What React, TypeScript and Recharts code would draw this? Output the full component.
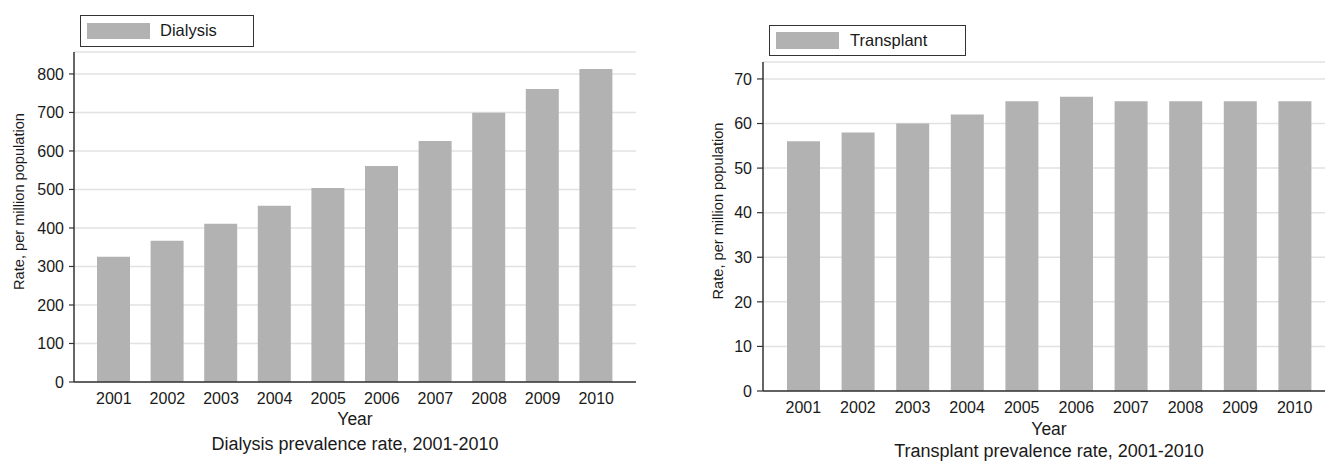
import React from "react";
import { BarChart, Bar, XAxis, YAxis, CartesianGrid, Legend, Label } from "recharts";

const years = ["2001", "2002", "2003", "2004", "2005", "2006", "2007", "2008", "2009", "2010"];
const dialysisRates = [325, 367, 411, 458, 504, 561, 626, 699, 761, 813];
const transplantRates = [56, 58, 60, 62, 65, 66, 65, 65, 65, 65];
const dialysisTicks = [0, 100, 200, 300, 400, 500, 600, 700, 800];
const transplantTicks = [0, 10, 20, 30, 40, 50, 60, 70];

const dialysisData = years.map((year, i) => ({ year, rate: dialysisRates[i] }));
const transplantData = years.map((year, i) => ({ year, rate: transplantRates[i] }));

const FONT = '"Liberation Sans", Arial, Helvetica, sans-serif';
const TEXT = "#1a1a1a";
const AXIS = "#333333";
const BAR = "#b2b2b2";
const GRID = "#e2e2e2";

const makeLegend = (box: { w: number; h: number; sx: number; sy: number; sw: number; sh: number; tx: number }) =>
  (props: any) => {
    const item = (props.payload || [])[0] || {};
    return (
      <div
        style={{
          position: "relative",
          width: box.w,
          height: box.h,
          boxSizing: "border-box",
          border: `1.5px solid ${AXIS}`,
          background: "#fff",
          fontFamily: FONT,
        }}
      >
        <div
          style={{
            position: "absolute",
            left: box.sx,
            top: box.sy,
            width: box.sw,
            height: box.sh,
            background: item.color || BAR,
          }}
        />
        <span
          style={{
            position: "absolute",
            left: box.tx,
            top: 0,
            lineHeight: `${box.h - 3}px`,
            fontSize: 16.5,
            color: TEXT,
          }}
        >
          {item.value}
        </span>
      </div>
    );
  };

const xLabel = (text: string, dy: number, size: number) => (props: any) => {
  const vb = props.viewBox || {};
  return (
    <text x={vb.x + vb.width / 2} y={vb.y + dy} textAnchor="middle" fontSize={size} fill={TEXT} fontFamily={FONT}>
      {text}
    </text>
  );
};

const yLabel = (text: string, gap: number) => (props: any) => {
  const vb = props.viewBox || {};
  const x = vb.x + vb.width - gap;
  const y = vb.y + vb.height / 2 - 15.5;
  return (
    <text
      x={x}
      y={y}
      transform={`rotate(-90, ${x}, ${y})`}
      textAnchor="middle"
      fontSize={14.6}
      fill={TEXT}
      fontFamily={FONT}
    >
      {text}
    </text>
  );
};

type PanelProps = {
  data: { year: string; rate: number }[];
  name: string;
  ticks: number[];
  domainMax: number;
  width: number;
  margin: { top: number; right: number; bottom: number; left: number };
  xHeight: number;
  tickSize: number;
  yGap: number;
  yearDy: number;
  titleDy: number;
  title: string;
  legendPos: { left: number; top: number };
  legendBox: { w: number; h: number; sx: number; sy: number; sw: number; sh: number; tx: number };
};

const Panel = (p: PanelProps) => (
  <BarChart width={p.width} height={461} data={p.data} margin={p.margin} style={{ fontFamily: FONT }}>
    <CartesianGrid vertical={false} stroke={GRID} strokeWidth={1.5} />
    <XAxis
      dataKey="year"
      height={p.xHeight}
      padding={{ left: 13, right: 13 }}
      axisLine={{ stroke: AXIS, strokeWidth: 1.5 }}
      tickLine={{ stroke: "transparent" }}
      tickSize={6}
      tickMargin={5}
      tick={{ fill: TEXT, fontSize: 16, fontFamily: FONT }}
      interval={0}
    >
      <Label content={xLabel("Year", p.yearDy, 17.5)} />
      <Label content={xLabel(p.title, p.titleDy, 18)} />
    </XAxis>
    <XAxis
      xAxisId="frameTop"
      orientation="top"
      dataKey="year"
      height={0}
      tick={false}
      tickLine={false}
      axisLine={{ stroke: AXIS, strokeWidth: 1.5 }}
    />
    <YAxis
      width={60}
      domain={[0, p.domainMax]}
      ticks={p.ticks}
      interval={0}
      axisLine={{ stroke: AXIS, strokeWidth: 1.5 }}
      tickLine={{ stroke: AXIS, strokeWidth: 1.2 }}
      tickSize={p.tickSize}
      tickMargin={5}
      tick={{ fill: TEXT, fontSize: 16, fontFamily: FONT }}
      allowDataOverflow
    >
      <Label content={yLabel("Rate, per million population", p.yGap)} />
    </YAxis>
    <YAxis
      yAxisId="frameRight"
      orientation="right"
      width={0}
      domain={[0, p.domainMax]}
      tick={false}
      tickLine={false}
      axisLine={{ stroke: AXIS, strokeWidth: 1.5 }}
    />
    <Legend
      layout="vertical"
      align="center"
      verticalAlign="middle"
      wrapperStyle={{ left: p.legendPos.left, top: p.legendPos.top, width: p.legendBox.w, height: p.legendBox.h }}
      content={makeLegend(p.legendBox)}
    />
    <Bar dataKey="rate" name={p.name} fill={BAR} barSize={33} isAnimationActive={false} />
  </BarChart>
);

export default function App() {
  return (
    <div
      style={{
        position: "fixed",
        left: 0,
        top: 0,
        width: 1325,
        height: 461,
        overflow: "hidden",
        background: "#fff",
        fontFamily: FONT,
      }}
    >
      <div style={{ position: "absolute", left: 0, top: 0 }}>
        <Panel
          data={dialysisData}
          name="Dialysis"
          ticks={dialysisTicks}
          domainMax={857}
          width={660}
          margin={{ top: 52, right: 24, bottom: 1, left: 14 }}
          xHeight={78}
          tickSize={5}
          yGap={50}
          yearDy={43}
          titleDy={67.5}
          title="Dialysis prevalence rate, 2001-2010"
          legendPos={{ left: 80, top: 15 }}
          legendBox={{ w: 174, h: 32, sx: 6, sy: 7, sw: 63, sh: 16, tx: 79 }}
        />
      </div>
      <div style={{ position: "absolute", left: 665, top: 0 }}>
        <Panel
          data={transplantData}
          name="Transplant"
          ticks={transplantTicks}
          domainMax={73.8}
          width={680}
          margin={{ top: 62, right: 10, bottom: 0, left: 38 }}
          xHeight={70}
          tickSize={6}
          yGap={40}
          yearDy={44}
          titleDy={66}
          title="Transplant prevalence rate, 2001-2010"
          legendPos={{ left: 104, top: 25 }}
          legendBox={{ w: 197, h: 31, sx: 6, sy: 6, sw: 63, sh: 17, tx: 80 }}
        />
      </div>
    </div>
  );
}
